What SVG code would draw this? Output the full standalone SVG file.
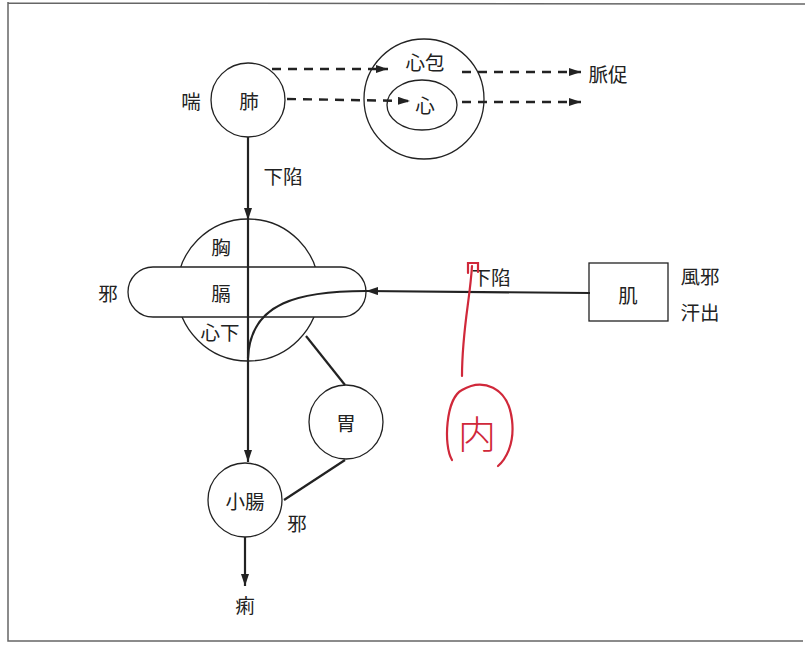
<svg xmlns="http://www.w3.org/2000/svg" width="809" height="648" viewBox="0 0 809 648">
<style>
text{font-family:"Noto Sans CJK JP","Noto Sans CJK SC",sans-serif;font-size:19.5px;fill:#222;text-anchor:middle;dominant-baseline:central}
.sh{fill:none;stroke:#222;stroke-width:1.3}
.ln{fill:none;stroke:#222;stroke-width:2.2}
.ds{fill:none;stroke:#222;stroke-width:2.4;stroke-dasharray:9 7}
.red{fill:none;stroke:#d0283a;stroke-width:2.2;stroke-linecap:round}
</style>
<defs>
<marker id="ah" viewBox="0 0 12 8" refX="12" refY="4" markerWidth="12" markerHeight="8" markerUnits="userSpaceOnUse" orient="auto"><path d="M0,0 L12,4 L0,8 Z" fill="#222"/></marker>
</defs>
<rect x="0" y="0" width="809" height="648" fill="#fff"/>
<path d="M8,2 L8,641 L803,641 M8,3 L805,4" fill="none" stroke="#666" stroke-width="1.5"/>
<g id="lung"><circle class="sh" cx="248" cy="100" r="37"/><text x="249" y="100">肺</text></g>
<text x="191" y="100">喘</text>
<g id="pericardium"><circle class="sh" cx="424" cy="99" r="60"/><text x="425" y="61">心包</text></g>
<g id="heart"><ellipse class="sh" cx="422" cy="105" rx="35" ry="25"/><text x="425" y="104">心</text></g>
<text x="608" y="73">脈促</text>
<text x="283" y="175">下陷</text>
<g id="chest"><circle class="sh" cx="248" cy="290" r="71"/><text x="221" y="246">胸</text><text x="220" y="331">心下</text></g>
<g id="diaphragm"><rect class="sh" style="fill:#fff" x="128" y="267" width="238" height="50" rx="25"/><text x="221" y="292">膈</text></g>
<text x="108" y="292">邪</text>
<g id="muscle"><rect class="sh" x="589" y="263" width="79" height="58"/><text x="628" y="294">肌</text></g>
<text x="700" y="275">風邪</text>
<text x="700" y="311">汗出</text>
<text x="491" y="276">下陷</text>
<g id="stomach"><circle class="sh" cx="346" cy="422" r="37"/><text x="346" y="422">胃</text></g>
<g id="smallint"><circle class="sh" cx="245" cy="500" r="37"/><text x="245" y="500">小腸</text></g>
<text x="297" y="522">邪</text>
<text x="245" y="604">痢</text>
<g id="connectors">
<path class="ds" d="M272,69 L388,69" marker-end="url(#ah)"/>
<path class="ds" d="M462,72 L581,72" marker-end="url(#ah)"/>
<path class="ds" d="M287,99 L410,101" marker-end="url(#ah)"/>
<path class="ds" d="M462,102 L581,102" marker-end="url(#ah)"/>
<path class="ln" d="M248,137 L248,220" marker-end="url(#ah)"/>
<path class="ln" d="M248,220 L248,462" marker-end="url(#ah)"/>
<path class="ln" d="M590,293 L366,291" marker-end="url(#ah)"/>
<path class="ln" d="M366,291 C300,291 250,302 248,358"/>
<path class="ln" d="M306,336 L345,385"/>
<path class="ln" d="M345,460 L284,500"/>
<path class="ln" d="M245,537 L245,586" marker-end="url(#ah)"/>
</g>
<g id="annotation">
<path class="red" d="M468,273 L468,263 L478,263 L478,272 M472,266 C470,300 462,330 462,376"/>
<path class="red" d="M462,390 C446,398 443,445 452,460 M462,390 C482,378 508,386 512,420 C515,445 505,460 498,466"/>
<text x="477" y="431" style="fill:#d0283a;font-size:38px;font-weight:300">内</text>
</g>
</svg>
